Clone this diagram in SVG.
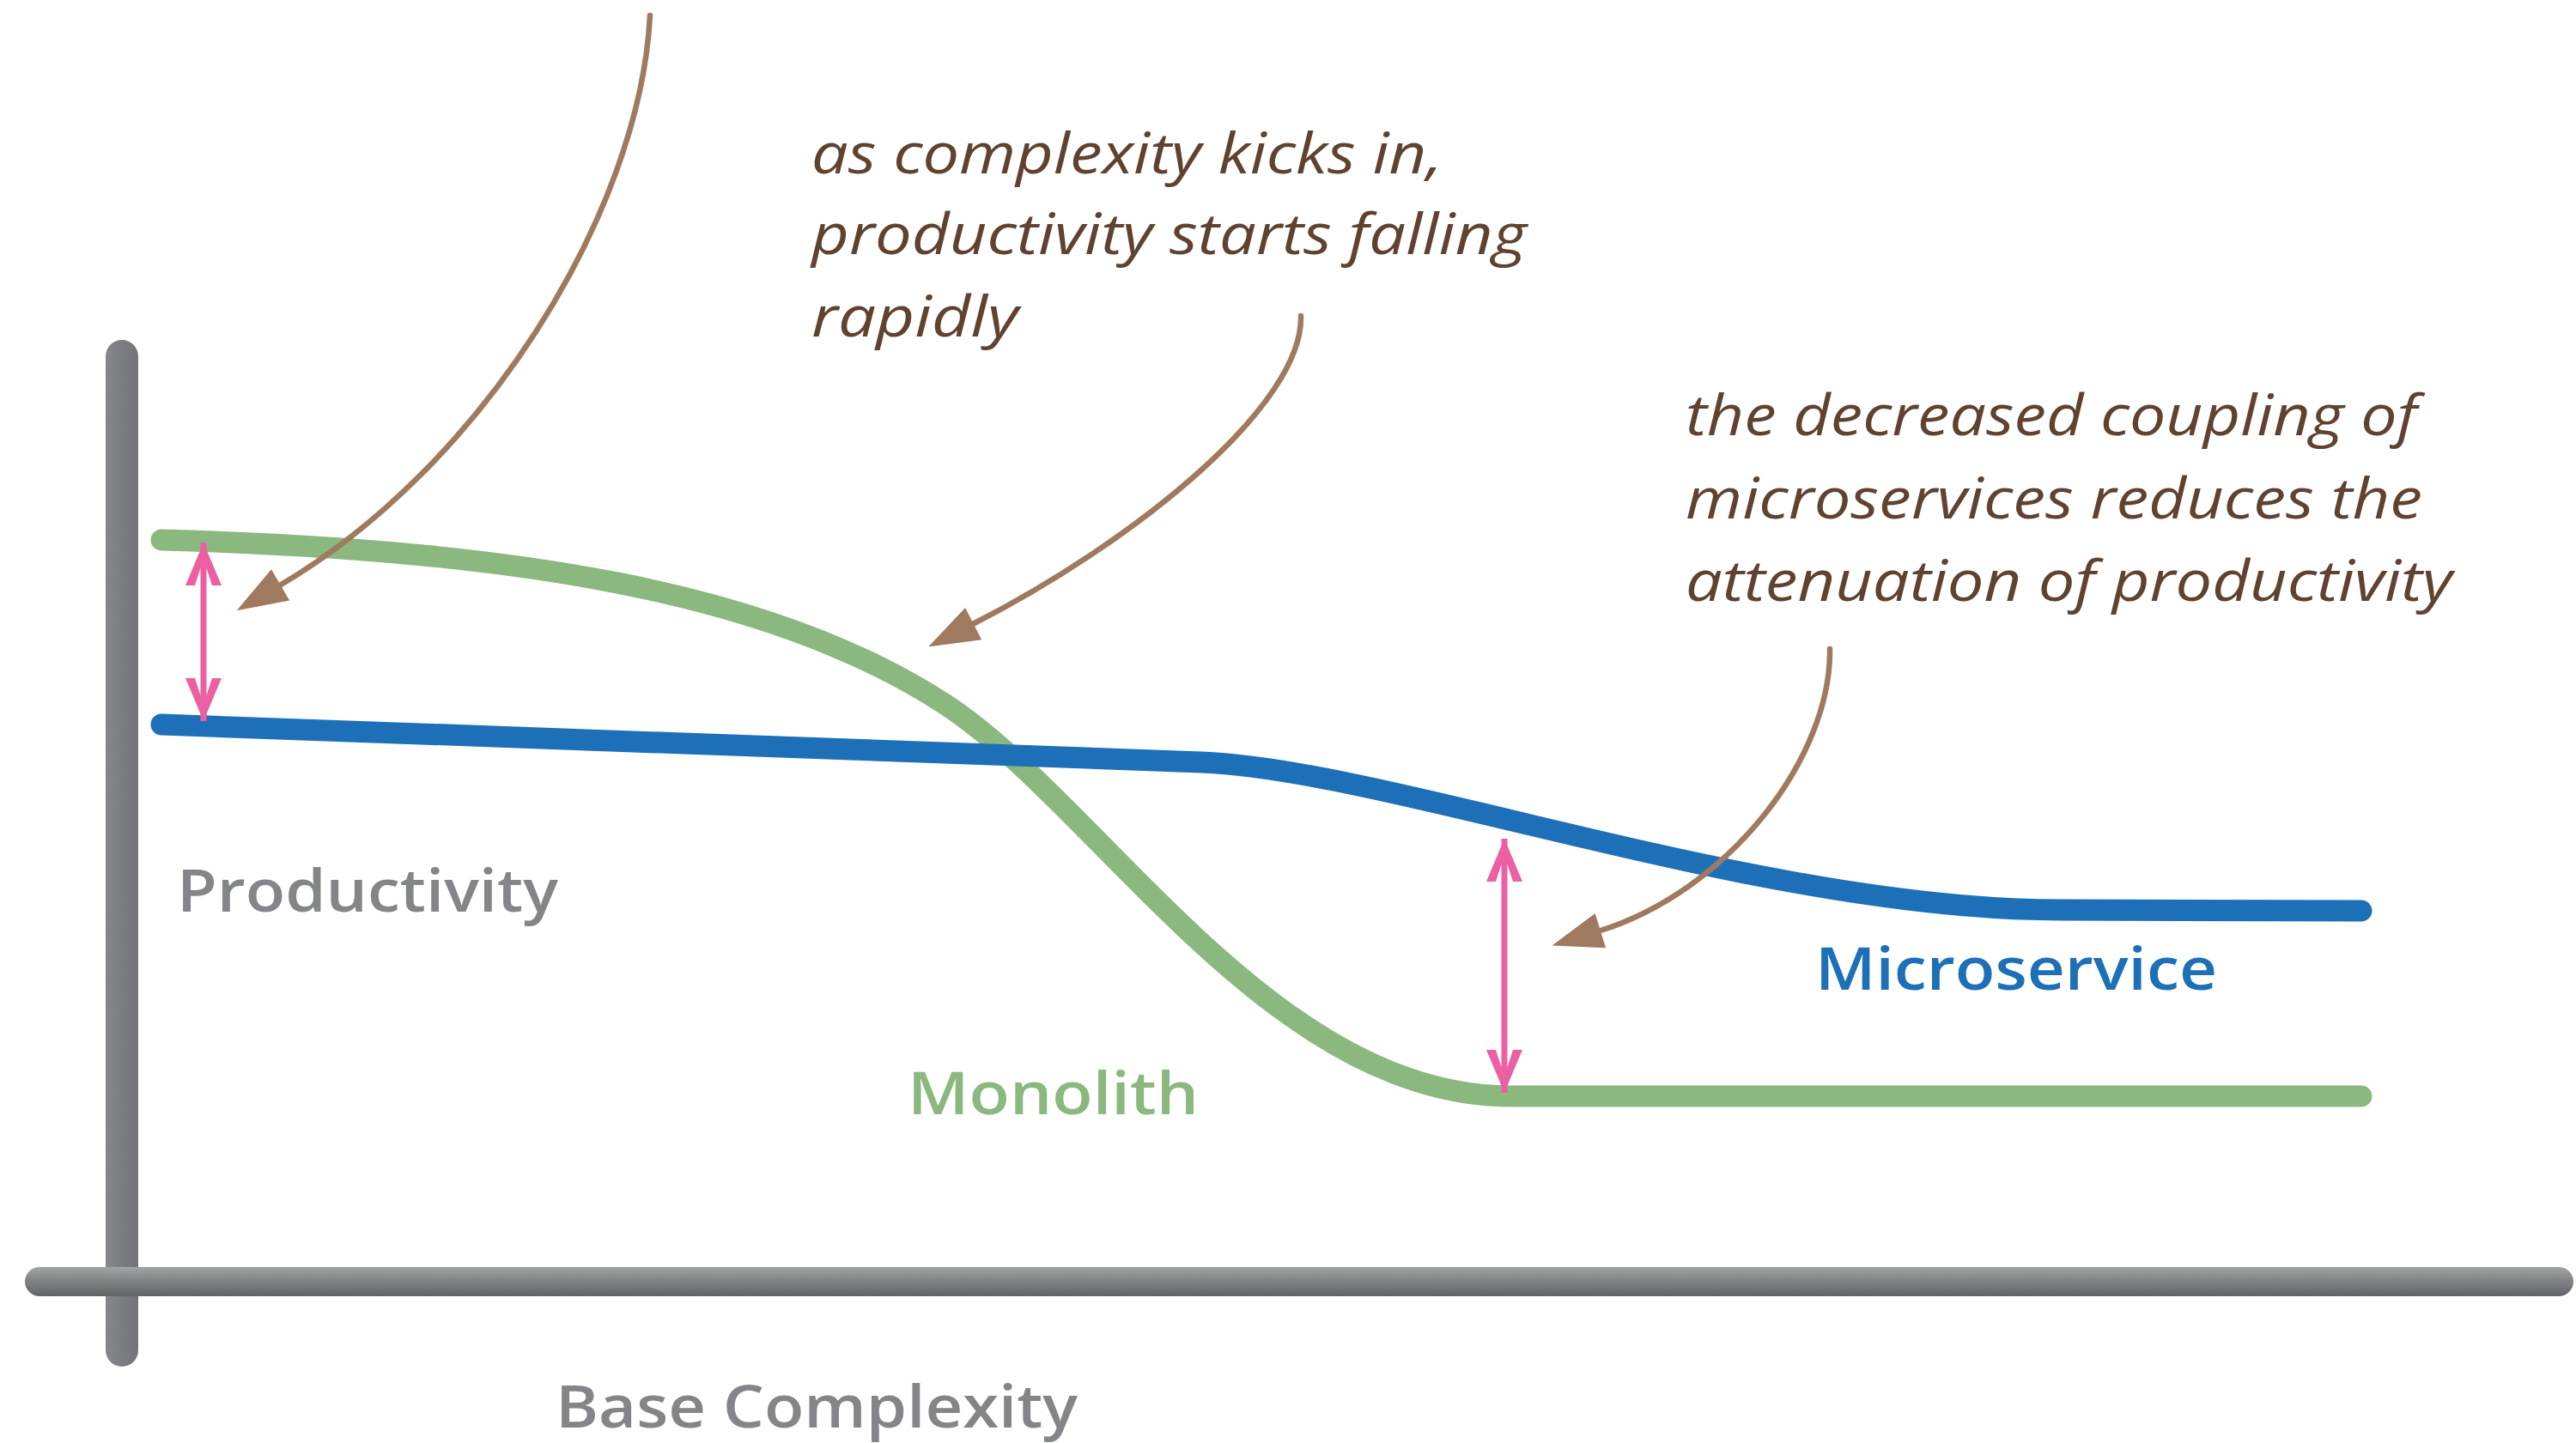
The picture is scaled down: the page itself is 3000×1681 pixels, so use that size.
<svg xmlns="http://www.w3.org/2000/svg" width="3000" height="1681" viewBox="0 0 3000 1681">
  <style>
    .note { font-family: "Open Sans", "Noto Sans", "Liberation Sans", sans-serif; font-style: italic; font-size: 66px; fill: #5f4330; }
    .label { font-family: "Open Sans", "Noto Sans", "Liberation Sans", sans-serif; font-weight: 600; font-size: 68px; }
    .brown { fill: none; stroke: #a07a5e; stroke-width: 6.5; stroke-linecap: round; }
    .pink { fill: none; stroke: #ec5fa1; stroke-width: 7; }
    .curve { fill: none; stroke-width: 25; stroke-linecap: round; stroke-linejoin: round; }
  </style>
  <defs>
    <linearGradient id="hAxis" x1="0" y1="0" x2="0" y2="1">
      <stop offset="0" stop-color="#a3a4a7"/>
      <stop offset="0.45" stop-color="#838488"/>
      <stop offset="1" stop-color="#626367"/>
    </linearGradient>
    <linearGradient id="vAxis" x1="0" y1="0" x2="1" y2="0">
      <stop offset="0" stop-color="#86878b"/>
      <stop offset="0.5" stop-color="#7c7d81"/>
      <stop offset="1" stop-color="#737478"/>
    </linearGradient>
    <marker id="brownHead" markerUnits="userSpaceOnUse" markerWidth="70" markerHeight="50" viewBox="-4 -25 70 50" refX="3" refY="0" orient="auto">
      <path d="M0,-21 L59,0 L0,21 Z" fill="#a07a5e"/>
    </marker>
    <marker id="pinkHead" markerUnits="userSpaceOnUse" markerWidth="60" markerHeight="50" viewBox="-55 -25 60 50" refX="0" refY="0" orient="auto-start-reverse">
      <path d="M0,0 L-50,-21 L-50,-10 L-30,-3.5 L-30,3.5 L-50,10 L-50,21 Z" fill="#ec5fa1"/>
    </marker>
  </defs>

  <g id="axes">
    <rect id="y-axis" x="123" y="396" width="38" height="1196" rx="19" fill="url(#vAxis)"/>
    <rect id="x-axis" x="29" y="1476" width="2968" height="34" rx="17" fill="url(#hAxis)"/>
  </g>

  <g id="monolith-curve">
    <path class="curve" stroke="#8ab87f" d="M188,629 C600,640 900,690 1100,820 C1280,937 1480,1277 1760,1277 L2750,1277"/>
  </g>
  <g id="microservice-curve">
    <path class="curve" stroke="#1d70b8" d="M188,844 C600,858 1000,872 1400,888 C1620,897 2050,1060 2400,1060 L2750,1061"/>
  </g>

  <g id="connectors">
    <path class="brown" marker-end="url(#brownHead)" d="M757,18 C745,250 560,545 324,683"/>
    <path class="brown" marker-end="url(#brownHead)" d="M1515,368 C1518,470 1327,628 1131,728"/>
    <path class="brown" marker-end="url(#brownHead)" d="M2131,756 C2133,880 2016,1037 1861,1085"/>
    <path class="pink" marker-start="url(#pinkHead)" marker-end="url(#pinkHead)" d="M237,632 L237,840"/>
    <path class="pink" marker-start="url(#pinkHead)" marker-end="url(#pinkHead)" d="M1752,977 L1752,1273"/>
  </g>

  <g id="note-complexity">
    <text class="note" x="945" y="202" textLength="735" lengthAdjust="spacingAndGlyphs">as complexity kicks in,</text>
    <text class="note" x="945" y="296" textLength="833" lengthAdjust="spacingAndGlyphs">productivity starts falling</text>
    <text class="note" x="945" y="392" textLength="241" lengthAdjust="spacingAndGlyphs">rapidly</text>
  </g>
  <g id="note-coupling">
    <text class="note" x="1963" y="507" textLength="852" lengthAdjust="spacingAndGlyphs">the decreased coupling of</text>
    <text class="note" x="1963" y="604" textLength="858" lengthAdjust="spacingAndGlyphs">microservices reduces the</text>
    <text class="note" x="1963" y="700" textLength="893" lengthAdjust="spacingAndGlyphs">attenuation of productivity</text>
  </g>

  <g id="label-productivity">
    <text class="label" x="206" y="1062" fill="#848589" textLength="444" lengthAdjust="spacingAndGlyphs">Productivity</text>
  </g>
  <g id="label-monolith">
    <text class="label" x="1057" y="1298" fill="#8ab87f" textLength="339" lengthAdjust="spacingAndGlyphs">Monolith</text>
  </g>
  <g id="label-microservice">
    <text class="label" x="2114" y="1153" fill="#1d70b8" textLength="468" lengthAdjust="spacingAndGlyphs">Microservice</text>
  </g>
  <g id="label-base-complexity">
    <text class="label" x="647" y="1663" fill="#848589" textLength="608" lengthAdjust="spacingAndGlyphs">Base Complexity</text>
  </g>
</svg>
